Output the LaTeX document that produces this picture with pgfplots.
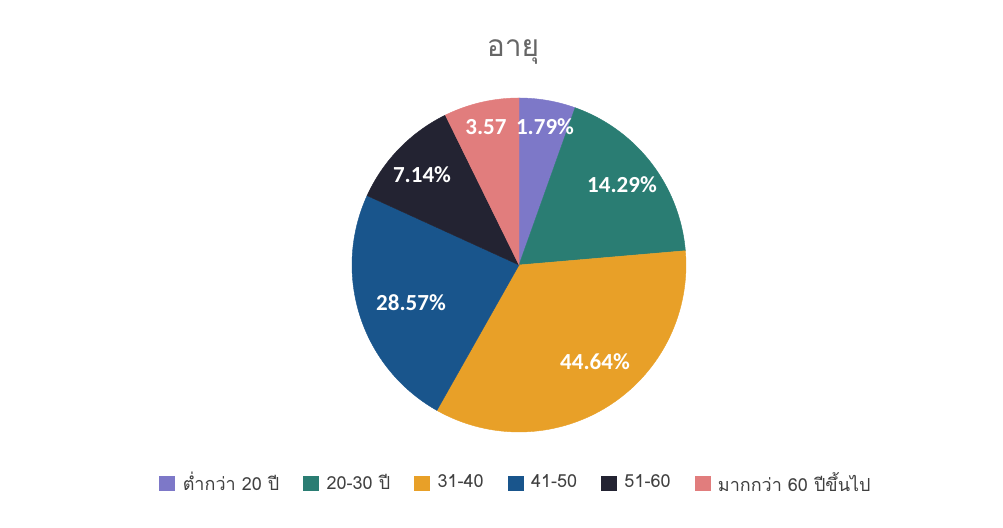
\documentclass[border=0pt]{standalone}
\usepackage{pgfplots}
\pgfplotsset{compat=1.18}
\usepackage{fontspec}
\setmainfont{Liberation Sans}
\newfontfamily\thaifont[Script=Thai]{Loma}
\newfontfamily\lblfont{Carlito}
\definecolor{cA}{HTML}{7D78C8}
\definecolor{cB}{HTML}{2A7D73}
\definecolor{cC}{HTML}{E8A028}
\definecolor{cD}{HTML}{19558C}
\definecolor{cE}{HTML}{232332}
\definecolor{cF}{HTML}{E17D7D}
% drawn slice sizes (counts)
\def\nA{3}\def\nB{10}\def\nC{19}\def\nD{13}\def\nE{6}\def\nF{4}
\pgfmathsetmacro\tot{\nA+\nB+\nC+\nD+\nE+\nF}
\pgfmathsetmacro\aA{90}
\pgfmathsetmacro\aB{\aA-360*\nA/\tot}
\pgfmathsetmacro\aC{\aB-360*\nB/\tot}
\pgfmathsetmacro\aD{\aC-360*\nC/\tot}
\pgfmathsetmacro\aE{\aD-360*\nD/\tot}
\pgfmathsetmacro\aF{\aE-360*\nE/\tot}
\pgfmathsetmacro\aG{\aF-360*\nF/\tot}
\def\cx{519}\def\cy{263}\def\rr{167}
\begin{document}
\begin{tikzpicture}
\begin{axis}[
  width=501.5pt, height=264pt, scale only axis,
  xmin=0, xmax=1003, ymin=0, ymax=528,
  hide axis, clip=false,
  legend columns=6,
  legend style={draw=none, fill=none, at={(axis cs:517,45)}, anchor=center,
    font=\thaifont\fontsize{9}{11}\selectfont, text=black!75,
    /tikz/every even column/.append style={column sep=10pt},
    /tikz/every odd column/.append style={column sep=0pt}},
  legend image code/.code={\fill[#1] (0pt,-3.5pt) rectangle (7.5pt,3.5pt); \path (9.5pt,0pt);},
  samples=80,
]
\addplot[fill=cA, draw=cA, line width=0.2pt, domain=\aB:\aA] ({\cx+\rr*cos(x)},{\cy+\rr*sin(x)}) -- (axis cs:\cx,\cy) -- cycle;
\addlegendentry{ต่ำกว่า 20 ปี}
\addplot[fill=cB, draw=cB, line width=0.2pt, domain=\aC:\aB] ({\cx+\rr*cos(x)},{\cy+\rr*sin(x)}) -- (axis cs:\cx,\cy) -- cycle;
\addlegendentry{20-30 ปี}
\addplot[fill=cC, draw=cC, line width=0.2pt, domain=\aD:\aC] ({\cx+\rr*cos(x)},{\cy+\rr*sin(x)}) -- (axis cs:\cx,\cy) -- cycle;
\addlegendentry{31-40}
\addplot[fill=cD, draw=cD, line width=0.2pt, domain=\aE:\aD] ({\cx+\rr*cos(x)},{\cy+\rr*sin(x)}) -- (axis cs:\cx,\cy) -- cycle;
\addlegendentry{41-50}
\addplot[fill=cE, draw=cE, line width=0.2pt, domain=\aF:\aE] ({\cx+\rr*cos(x)},{\cy+\rr*sin(x)}) -- (axis cs:\cx,\cy) -- cycle;
\addlegendentry{51-60}
\addplot[fill=cF, draw=cF, line width=0.2pt, domain=\aG:\aF] ({\cx+\rr*cos(x)},{\cy+\rr*sin(x)}) -- (axis cs:\cx,\cy) -- cycle;
\addlegendentry{มากกว่า 60 ปีขึ้นไป}
\addplot[draw=none, forget plot] coordinates {(0,0) (1003,528)};
% data labels
\begin{scope}[every node/.style={text=white, font=\lblfont\bfseries\fontsize{11.5}{13}\selectfont}]
\node at (axis cs:545,401) {1.79\%};
\node at (axis cs:486,401) {3.57};
\node at (axis cs:422,353) {7.14\%};
\node at (axis cs:622,343) {14.29\%};
\node at (axis cs:411,225) {28.57\%};
\node at (axis cs:595,166) {44.64\%};
\end{scope}
\node[anchor=base, text=black!60, font=\thaifont\fontsize{15}{18}\selectfont] at (axis cs:513,471) {อายุ};
\end{axis}
\end{tikzpicture}
\end{document}
